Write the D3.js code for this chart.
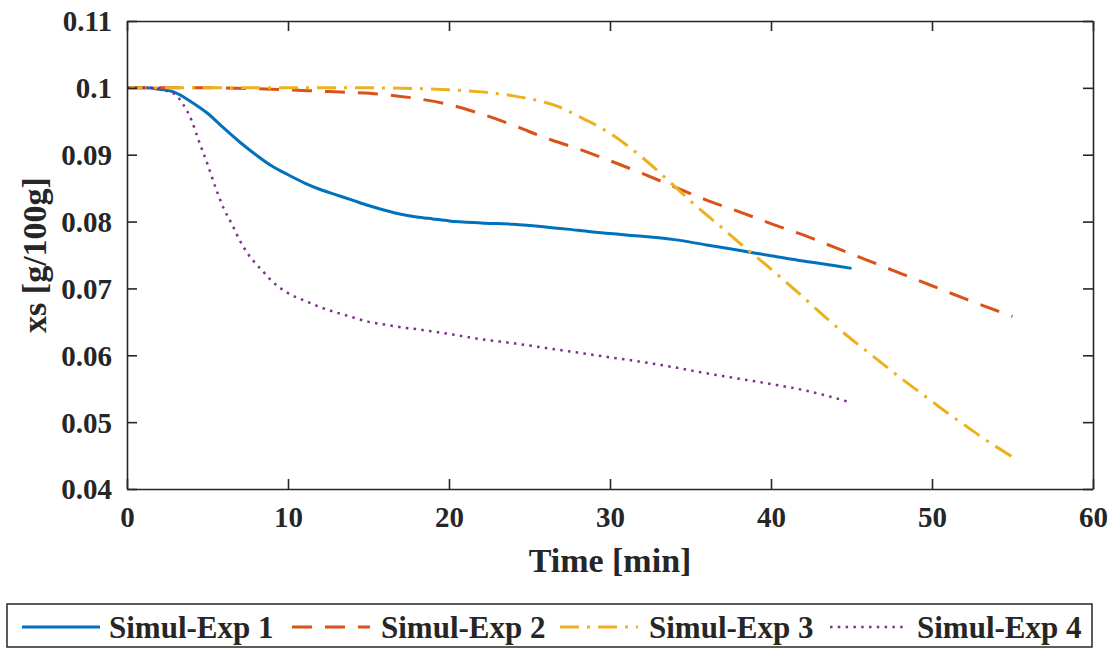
<!DOCTYPE html>
<html>
<head>
<meta charset="utf-8">
<script src="https://cdn.jsdelivr.net/npm/d3@7"></script>
<style>
  html, body { margin: 0; padding: 0; background: #fff; }
  svg { display: block; }
  text { font-family: "Liberation Serif", "Times New Roman", serif; font-weight: bold; fill: #262626; }
</style>
</head>
<body>
<svg id="chart" width="1117" height="649"></svg>
<script>
// Simulated solute content xs [g/100g] over time [min] for four experiments
const seriesNames = ["Simul-Exp 1", "Simul-Exp 2", "Simul-Exp 3", "Simul-Exp 4"];
const seriesColors = ["#0072BD", "#D95319", "#EDB120", "#7E2F8E"];

const exp1Time = [0, 1, 2, 3, 4, 5, 6, 7, 8, 9, 10, 11, 12, 13, 14, 15, 16, 17, 18, 19, 20, 22, 24, 26, 28, 30, 32, 34, 36, 38, 40, 42, 44, 45];
const exp1Xs   = [0.1, 0.1, 0.0998, 0.0993, 0.0979, 0.0962, 0.094, 0.0919, 0.09, 0.0883, 0.087, 0.0858, 0.0848, 0.084, 0.0832, 0.0824, 0.0817, 0.0811, 0.0807, 0.0804, 0.0801, 0.0798, 0.0796, 0.0792, 0.0787, 0.0782, 0.0778, 0.0773, 0.0765, 0.0757, 0.0749, 0.0741, 0.0734, 0.073];

const exp2Time = [0, 5, 10, 12, 14, 16, 18, 20, 22, 24, 26, 28, 30, 32, 34, 36, 38, 40, 42, 44, 46, 48, 50, 52, 54, 55];
const exp2Xs   = [0.1, 0.1, 0.0997, 0.0995, 0.0993, 0.099, 0.0984, 0.0975, 0.0961, 0.0944, 0.0925, 0.0909, 0.0891, 0.0872, 0.0852, 0.0832, 0.0815, 0.0797, 0.078, 0.0761, 0.0742, 0.0723, 0.0704, 0.0685, 0.0667, 0.0658];

const exp3Time = [0, 10, 15, 18, 20, 22, 24, 26, 27, 28, 29, 30, 31, 32, 33, 34, 35, 36, 37, 38, 39, 40, 41, 42, 43, 44, 45, 46, 47, 48, 49, 50, 51, 52, 53, 54, 55];
const exp3Xs   = [0.1, 0.1, 0.1, 0.0999, 0.0997, 0.0994, 0.0988, 0.0978, 0.097, 0.0958, 0.0946, 0.0932, 0.0915, 0.0896, 0.0875, 0.0853, 0.0831, 0.081, 0.079, 0.0769, 0.0749, 0.0729, 0.0708, 0.0687, 0.0665, 0.0644, 0.0624, 0.0605, 0.0586, 0.0567, 0.0549, 0.0531, 0.0513, 0.0496, 0.0479, 0.0463, 0.0448];

const exp4Time = [0, 2, 2.5, 3, 3.5, 4, 4.5, 5, 5.5, 6, 6.5, 7, 7.5, 8, 8.5, 9, 10, 11, 12, 13, 14, 15, 16, 17, 18, 20, 22, 24, 26, 28, 30, 32, 34, 36, 38, 40, 42, 44, 45];
const exp4Xs   = [0.1, 0.1, 0.0995, 0.099, 0.0975, 0.0952, 0.0918, 0.0886, 0.0851, 0.082, 0.0797, 0.0772, 0.0752, 0.0737, 0.0724, 0.0711, 0.0693, 0.0682, 0.0672, 0.0664, 0.0657, 0.065, 0.0646, 0.0642, 0.0639, 0.0632, 0.0624, 0.0618, 0.0611, 0.0604, 0.0597, 0.059, 0.0582, 0.0573, 0.0565, 0.0557, 0.0548, 0.0536, 0.0529];

const xTicks = [0, 10, 20, 30, 40, 50, 60];
const yTicks = [0.04, 0.05, 0.06, 0.07, 0.08, 0.09, 0.1, 0.11];

const seriesTimes = [exp1Time, exp2Time, exp3Time, exp4Time];
const seriesValues = [exp1Xs, exp2Xs, exp3Xs, exp4Xs];
const dashStyles = [null, "20,13", "19,8,3,8", "2.5,5.3"];
const lineWidths = [3, 3, 3, 2.5];

const svg = d3.select("#chart");
const plot = { left: 127, right: 1093, top: 21, bottom: 489 };
const axisColor = "#262626";
const tickLen = 10;

const x = d3.scaleLinear().domain([0, 60]).range([plot.left, plot.right]);
const y = d3.scaleLinear().domain([0.04, 0.11]).range([plot.bottom, plot.top]);

// Curves
const line = d3.line()
  .x(d => x(d[0]))
  .y(d => y(d[1]))
  .curve(d3.curveMonotoneX);

const curves = svg.append("g");
seriesNames.forEach((name, i) => {
  const pts = seriesTimes[i].map((t, k) => [t, seriesValues[i][k]]);
  curves.append("path")
    .datum(pts)
    .attr("d", line)
    .attr("fill", "none")
    .attr("stroke", seriesColors[i])
    .attr("stroke-width", lineWidths[i])
    .attr("stroke-dasharray", dashStyles[i]);
});

// Box axes with inward ticks on all four sides
const fmtY = d => d3.format(".2f")(d).replace(/0$/, "");
const bottomAxis = svg.append("g").attr("transform", `translate(0,${plot.bottom})`)
  .call(d3.axisBottom(x).tickValues(xTicks).tickSizeInner(-tickLen).tickSizeOuter(0).tickPadding(20));
const topAxis = svg.append("g").attr("transform", `translate(0,${plot.top})`)
  .call(d3.axisTop(x).tickValues(xTicks).tickSizeInner(-tickLen).tickSizeOuter(0).tickFormat(""));
const leftAxis = svg.append("g").attr("transform", `translate(${plot.left},0)`)
  .call(d3.axisLeft(y).tickValues(yTicks).tickSizeInner(-tickLen).tickSizeOuter(0).tickPadding(25).tickFormat(fmtY));
const rightAxis = svg.append("g").attr("transform", `translate(${plot.right},0)`)
  .call(d3.axisRight(y).tickValues(yTicks).tickSizeInner(-tickLen).tickSizeOuter(0).tickFormat(""));

[bottomAxis, topAxis, leftAxis, rightAxis].forEach(g => {
  g.select(".domain").attr("stroke", axisColor).attr("stroke-width", 1.6);
  g.selectAll(".tick line").attr("stroke", axisColor).attr("stroke-width", 1.6);
  g.selectAll(".tick text")
    .attr("fill", axisColor)
    .style("font-family", '"Liberation Serif", "Times New Roman", serif')
    .style("font-weight", "bold")
    .style("font-size", "29px");
});
bottomAxis.selectAll(".tick text").attr("dy", "0").attr("y", 38);
leftAxis.selectAll(".tick text").attr("x", -15).attr("dy", "0.34em");
// Clean up the rendered tick text nodes on the frame-only axes
topAxis.selectAll(".tick text").remove();
rightAxis.selectAll(".tick text").remove();

// Axis titles
svg.append("text")
  .attr("x", (plot.left + plot.right) / 2)
  .attr("y", 572)
  .attr("text-anchor", "middle")
  .style("font-size", "34px")
  .text("Time [min]");

svg.append("text")
  .attr("transform", `translate(46,${(plot.top + plot.bottom) / 2}) rotate(-90)`)
  .attr("text-anchor", "middle")
  .style("font-size", "34px")
  .text("xs [g/100g]");

// Legend in a single row below the axes
const legend = svg.append("g");
legend.append("rect")
  .attr("x", 7).attr("y", 604)
  .attr("width", 1085).attr("height", 43)
  .attr("fill", "#fff")
  .attr("stroke", axisColor)
  .attr("stroke-width", 1.5);

const legendItems = [
  { x1: 22, x2: 100, tx: 109 },
  { x1: 292, x2: 370, tx: 381 },
  { x1: 560, x2: 638, tx: 649 },
  { x1: 830, x2: 906, tx: 917 }
];
const legendY = 627;
legendItems.forEach((it, i) => {
  legend.append("line")
    .attr("x1", it.x1).attr("x2", it.x2)
    .attr("y1", legendY).attr("y2", legendY)
    .attr("stroke", seriesColors[i])
    .attr("stroke-width", lineWidths[i])
    .attr("stroke-dasharray", dashStyles[i]);
  legend.append("text")
    .attr("x", it.tx)
    .attr("y", legendY + 11)
    .style("font-size", "31px")
    .text(seriesNames[i]);
});
</script>
</body>
</html>
